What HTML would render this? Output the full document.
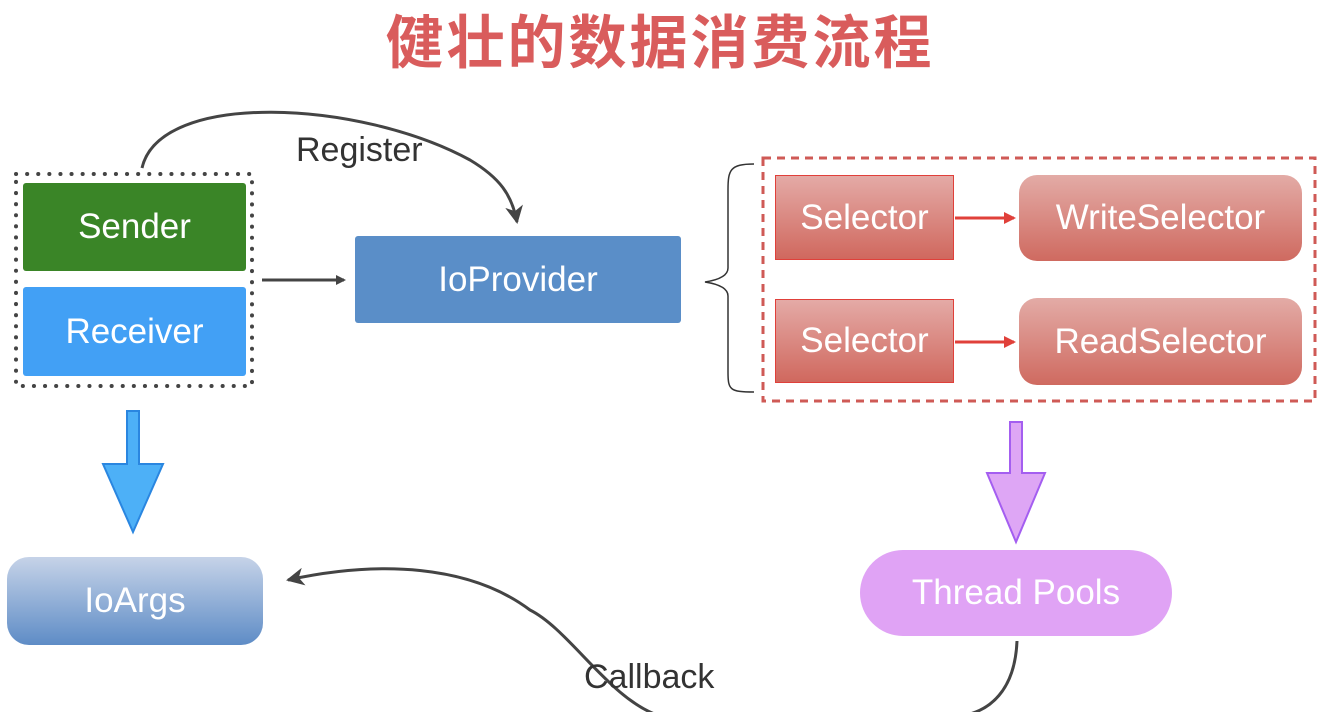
<!DOCTYPE html>
<html><head><meta charset="utf-8"><style>
body{margin:0;width:1336px;height:712px;background:#fff;overflow:hidden;position:relative;font-family:"Liberation Sans","Noto Sans CJK SC",sans-serif}
.b{position:absolute;display:flex;align-items:center;justify-content:center;color:#fff;font-size:35px}
.title{position:absolute;left:380px;top:0;width:560px;text-align:center;font:bold 58px "Noto Sans CJK SC",sans-serif;color:#d95c5c;line-height:76px;letter-spacing:3px}
.sel{background:linear-gradient(#e4aaa6,#d0685e);border:1.5px solid #e0403a;box-sizing:border-box}
.rs{background:linear-gradient(#e3aba6,#cf6a60);border-radius:18px}
</style></head><body>
<div class="title">健壮的数据消费流程</div>
<svg width="1336" height="712" style="position:absolute;left:0;top:0">
<defs>
<marker id="ah" markerWidth="10" markerHeight="10" refX="8" refY="5" orient="auto" markerUnits="userSpaceOnUse"><path d="M0,0L10,5L0,10Z" fill="#444"/></marker>
<marker id="ah2" markerWidth="18" markerHeight="18" refX="16" refY="9" orient="auto" markerUnits="userSpaceOnUse"><path d="M0,0L18,9L0,18L5,9Z" fill="#444"/></marker>
<marker id="ar" markerWidth="12" markerHeight="12" refX="10" refY="6" orient="auto" markerUnits="userSpaceOnUse"><path d="M0,0L12,6L0,12Z" fill="#e0403a"/></marker>
</defs>
<rect x="16" y="174" width="236" height="212" fill="none" stroke="#444" stroke-width="4" stroke-dasharray="0.1 11" stroke-linecap="round"/>
<path d="M142,168 C160,90 360,100 470,160 C500,178 512,195 517,222" fill="none" stroke="#444" stroke-width="3" marker-end="url(#ah2)"/>
<line x1="262" y1="280" x2="344" y2="280" stroke="#444" stroke-width="3" marker-end="url(#ah)"/>
<path d="M754,164 C730,164 728,170 728,190 L728,268 C728,276 718,280 705,282 C718,284 728,288 728,296 L728,372 C728,390 730,392 754,392" fill="none" stroke="#333" stroke-width="1.5"/>
<rect x="763" y="158" width="552" height="243" fill="none" stroke="#cf5a56" stroke-width="3" stroke-dasharray="8 6"/>
<line x1="955" y1="218" x2="1014" y2="218" stroke="#e0403a" stroke-width="3" marker-end="url(#ar)"/>
<line x1="955" y1="342" x2="1014" y2="342" stroke="#e0403a" stroke-width="3" marker-end="url(#ar)"/>
<path d="M127,411 h12 v53 h24 l-30,68 l-30,-68 h24 z" fill="#4db0f7" stroke="#2a86e0" stroke-width="2"/>
<path d="M1010,422 h12 v51 h23 l-29,69 l-29,-69 h23 z" fill="#dea6f5" stroke="#a45ef0" stroke-width="2"/>
<path d="M1017,641 C1015,690 990,712 960,716 L660,716 C610,700 570,630 530,610 C470,565 380,560 288,580" fill="none" stroke="#444" stroke-width="3" marker-end="url(#ah2)"/>
<text x="296" y="161" font-family="Liberation Sans" font-size="34" fill="#333">Register</text>
<text x="584" y="688" font-family="Liberation Sans" font-size="34" fill="#333">Callback</text>
</svg>
<div class="b" style="left:23px;top:183px;width:223px;height:88px;background:#3a8527;border-radius:3px">Sender</div>
<div class="b" style="left:23px;top:287px;width:223px;height:89px;background:#42a0f5;border-radius:3px">Receiver</div>
<div class="b" style="left:355px;top:236px;width:326px;height:87px;background:#5a8ec8;border-radius:3px">IoProvider</div>
<div class="b sel" style="left:775px;top:175px;width:179px;height:85px">Selector</div>
<div class="b sel" style="left:775px;top:299px;width:179px;height:84px">Selector</div>
<div class="b rs" style="left:1019px;top:175px;width:283px;height:86px">WriteSelector</div>
<div class="b rs" style="left:1019px;top:298px;width:283px;height:87px">ReadSelector</div>
<div class="b" style="left:7px;top:557px;width:256px;height:88px;border-radius:22px;background:linear-gradient(#c6d3e8,#5e8cc6)">IoArgs</div>
<div class="b" style="left:860px;top:550px;width:312px;height:86px;border-radius:43px;background:#e0a3f5">Thread Pools</div>
</body></html>
